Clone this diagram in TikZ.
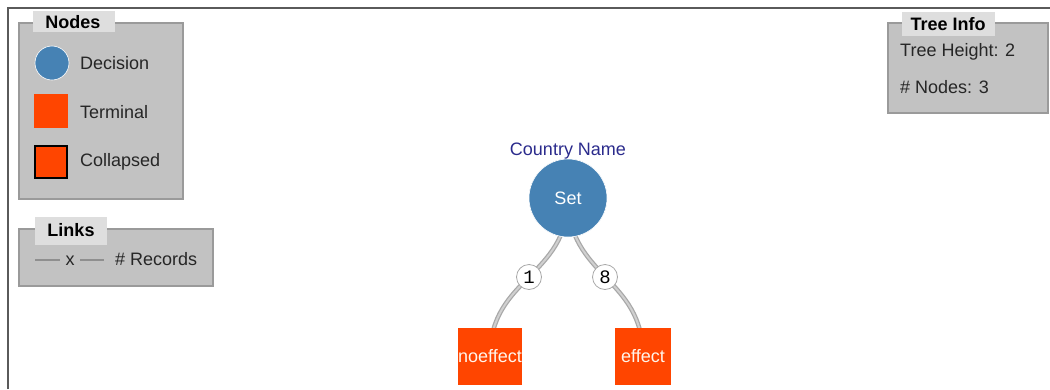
\documentclass[tikz,border=0pt]{standalone}
\usepackage{fontspec}
\setmainfont{Liberation Sans}
\newfontfamily\monof{Liberation Mono}
\definecolor{boxfill}{HTML}{C2C2C2}
\definecolor{boxline}{HTML}{9A9A9A}
\definecolor{tabfill}{HTML}{DEDEDE}
\definecolor{decblue}{HTML}{4682B4}
\definecolor{termred}{HTML}{FF4500}
\definecolor{framecol}{HTML}{5A5A5A}
\definecolor{navytext}{HTML}{2B2B8C}
\definecolor{linkdark}{HTML}{A8A8A8}
\definecolor{linklight}{HTML}{D0D0D0}
\tikzset{
  panel/.style={draw=boxline, fill=boxfill, line width=1.5pt},
  tabbox/.style={fill=tabfill, draw=none},
  tabtext/.style={font=\fontsize{18}{20}\selectfont\bfseries, text=black, inner sep=0pt},
  legtext/.style={font=\fontsize{18}{20}\selectfont, text=black!85, anchor=west, inner sep=0pt},
  decision/.style={circle, fill=decblue, draw=white, line width=0.6pt},
  terminal/.style={rectangle, fill=termred, draw=none},
  collapsed/.style={rectangle, fill=termred, draw=black, line width=2.2pt},
  linkouter/.style={draw=linkdark, line width=4.5pt},
  linkinner/.style={draw=linklight, line width=2pt},
  countlabel/.style={circle, fill=white, draw=linkdark, line width=0.8pt, minimum size=25pt, inner sep=0pt, font=\monof\fontsize{19}{20}\selectfont},
  leaftext/.style={font=\fontsize{18}{20}\selectfont, text=white!92!orange},
}
\begin{document}
\begin{tikzpicture}[x=1pt,y=-1pt]
\useasboundingbox (0,0) rectangle (1050,389);
% frame
\draw[framecol, line width=2.5pt] (8,389) -- (8,8) -- (1050,8);

% Nodes legend
\draw[panel] (19,23) rectangle (183,199);
\fill[tabbox] (33,11) rectangle (115,32);
\node[tabtext] (nodestab) at (73,22) {Nodes};
\node[decision, minimum size=34pt, inner sep=0pt] (legdec) at (52,63) {};
\node[legtext] (legdect) at (80,63) {Decision};
\node[terminal, minimum size=34pt, inner sep=0pt] (legterm) at (51,111) {};
\node[legtext] (legtermt) at (80,112) {Terminal};
\node[collapsed, minimum size=32pt, inner sep=0pt] (legcol) at (51,162) {};
\node[legtext] (legcolt) at (80,162) {Collapsed};

% Links legend
\draw[panel] (19,229) rectangle (213,286);
\fill[tabbox] (35,217) rectangle (107,245);
\node[tabtext] (linkstab) at (71,230) {Links};
\coordinate (la) at (35,260);
\coordinate (lb) at (60,260);
\coordinate (lc) at (80,260);
\coordinate (ld) at (104,260);
\draw[linkdark!85!black, line width=2pt] (la) -- (lb);
\draw[linkdark!85!black, line width=2pt] (lc) -- (ld);
\node[font=\fontsize{18}{20}\selectfont, text=black!85, inner sep=0pt] (lx) at (70,261) {x};
\node[legtext] (lrec) at (115,259) {\# Records};

% Tree info
\draw[panel] (888,23) rectangle (1048,113);
\fill[tabbox] (902,12) rectangle (995,36);
\node[tabtext] (infotab) at (948,24) {Tree Info};
\node[legtext] (ih) at (900,52) {Tree Height: 2};
\node[legtext] (in) at (900,87) {\# Nodes: 3};

% Tree
\node[decision, minimum size=78pt, inner sep=0pt, font=\fontsize{18}{20}\selectfont, text=white] (root) at (568,198) {Set};
\node[font=\fontsize{18}{20}\selectfont, text=navytext, inner sep=0pt] (rootlab) at (568,151) {Country Name};
\node[terminal, minimum width=56pt, minimum height=57pt, inner sep=0pt] (leafa) at (490,356) {};
\node[terminal, minimum width=56pt, minimum height=57pt, inner sep=0pt] (leafb) at (643,356) {};

\draw[linkouter] (root.center) .. controls (568,277) and (490,277) .. (leafa.center);
\draw[linkinner] (root.center) .. controls (568,277) and (490,277) .. (leafa.center);
\draw[linkouter] (root.center) .. controls (568,277) and (643,277) .. (leafb.center);
\draw[linkinner] (root.center) .. controls (568,277) and (643,277) .. (leafb.center);

% redraw nodes on top of links
\node[decision, minimum size=78pt, inner sep=0pt, font=\fontsize{18}{20}\selectfont, text=white] (root2) at (root) {Set};
\node[terminal, minimum width=56pt, minimum height=57pt, inner sep=0pt, leaftext] (leafa2) at (leafa) {noeffect};
\node[terminal, minimum width=56pt, minimum height=57pt, inner sep=0pt, leaftext] (leafb2) at (leafb) {effect};

\node[countlabel] (c1) at (529,277) {1};
\node[countlabel] (c8) at (605,277) {8};
\end{tikzpicture}
\end{document}
